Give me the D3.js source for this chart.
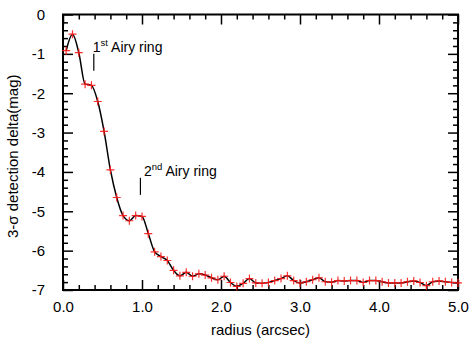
<!DOCTYPE html>
<html>
<head>
<meta charset="utf-8">
<script src="https://cdn.jsdelivr.net/npm/d3@7"></script>
<style>
  html, body { margin: 0; padding: 0; background: #fff; }
  svg { display: block; font-family: "Liberation Sans", Arial, sans-serif; }
</style>
</head>
<body>
<svg id="chart" width="470" height="340"></svg>
<script>
// ---- data ----
const radius = [0.04, 0.12, 0.20, 0.28, 0.36, 0.44, 0.52, 0.60, 0.68, 0.76,
  0.84, 0.92, 1.00, 1.08, 1.16, 1.24, 1.32, 1.40, 1.48, 1.56,
  1.64, 1.72, 1.80, 1.88, 1.96, 2.04, 2.12, 2.20, 2.28, 2.36,
  2.44, 2.52, 2.60, 2.68, 2.76, 2.84, 2.92, 3.00, 3.08, 3.16,
  3.24, 3.32, 3.40, 3.48, 3.56, 3.64, 3.72, 3.80, 3.88, 3.96,
  4.04, 4.12, 4.20, 4.28, 4.36, 4.44, 4.52, 4.60, 4.68, 4.76,
  4.84, 4.92, 5.00];
const delta = [-0.92, -0.50, -0.97, -1.77, -1.80, -2.21, -2.97, -3.95, -4.65, -5.11,
  -5.24, -5.11, -5.13, -5.57, -6.03, -6.15, -6.25, -6.50, -6.64, -6.55,
  -6.65, -6.59, -6.62, -6.69, -6.74, -6.65, -6.81, -6.91, -6.83, -6.71,
  -6.82, -6.83, -6.81, -6.76, -6.71, -6.64, -6.76, -6.82, -6.79, -6.74,
  -6.69, -6.79, -6.80, -6.76, -6.77, -6.76, -6.76, -6.81, -6.76, -6.76,
  -6.79, -6.82, -6.82, -6.82, -6.79, -6.77, -6.81, -6.89, -6.79, -6.77,
  -6.79, -6.81, -6.82];
const xTickValues = [0, 1, 2, 3, 4, 5];
const xTickLabels = ["0.0", "1.0", "2.0", "3.0", "4.0", "5.0"];
const yTickValues = [0, -1, -2, -3, -4, -5, -6, -7];
const yTickLabels = ["0", "-1", "-2", "-3", "-4", "-5", "-6", "-7"];
const annotations = [
  { r: 0.39, v: -1.0, main: "1", sup: "st", rest: " Airy ring" },
  { r: 0.98, v: -4.15, main: "2", sup: "nd", rest: " Airy ring" }
];
const xTitle = "radius (arcsec)";
const yTitle = "3-σ detection delta(mag)";

// ---- layout ----
const L = 63, R = 458, T = 14.5, B = 290;
const svg = d3.select("#chart");
const x = d3.scaleLinear().domain([0, 5]).range([L, R]);
const y = d3.scaleLinear().domain([-7, 0]).range([B, T]);

const xMinor = d3.range(0, 5.0001, 0.2).filter(v => Math.abs(v - Math.round(v)) > 1e-6);
const yMinor = d3.range(-7, 0.0001, 0.2).filter(v => Math.abs(v - Math.round(v)) > 1e-6);

function styleAxis(g) {
  g.select(".domain").remove();
  g.selectAll(".tick line").attr("stroke", "#000").attr("stroke-width", 1.5);
  g.selectAll(".tick text").attr("fill", "#000").attr("font-size", 15)
    .attr("font-family", "'Liberation Sans', Arial, sans-serif");
}

// bottom
svg.append("g").attr("transform", `translate(0,${B})`)
  .call(d3.axisBottom(x).tickValues(xTickValues).tickSize(-10).tickPadding(11)
    .tickFormat((d, i) => xTickLabels[i])).call(styleAxis);
svg.append("g").attr("transform", `translate(0,${B})`)
  .call(d3.axisBottom(x).tickValues(xMinor).tickSize(-5).tickFormat("")).call(styleAxis);
// top
svg.append("g").attr("transform", `translate(0,${T})`)
  .call(d3.axisTop(x).tickValues(xTickValues).tickSize(-10).tickFormat("")).call(styleAxis);
svg.append("g").attr("transform", `translate(0,${T})`)
  .call(d3.axisTop(x).tickValues(xMinor).tickSize(-5).tickFormat("")).call(styleAxis);
// left
svg.append("g").attr("transform", `translate(${L},0)`)
  .call(d3.axisLeft(y).tickValues(yTickValues).tickSize(-10).tickPadding(18)
    .tickFormat((d, i) => yTickLabels[i])).call(styleAxis);
svg.append("g").attr("transform", `translate(${L},0)`)
  .call(d3.axisLeft(y).tickValues(yMinor).tickSize(-5).tickFormat("")).call(styleAxis);
// right
svg.append("g").attr("transform", `translate(${R},0)`)
  .call(d3.axisRight(y).tickValues(yTickValues).tickSize(-10).tickFormat("")).call(styleAxis);
svg.append("g").attr("transform", `translate(${R},0)`)
  .call(d3.axisRight(y).tickValues(yMinor).tickSize(-5).tickFormat("")).call(styleAxis);

// frame
svg.append("rect").attr("x", L).attr("y", T).attr("width", R - L).attr("height", B - T)
  .attr("fill", "none").attr("stroke", "#000").attr("stroke-width", 2);

// line
const pts = radius.map((r, i) => [r, delta[i]]);
svg.append("path").datum(pts)
  .attr("fill", "none").attr("stroke", "#000").attr("stroke-width", 1.5)
  .attr("d", d3.line().x(d => x(d[0])).y(d => y(d[1])).curve(d3.curveMonotoneX));

// markers
svg.append("g").selectAll("path").data(pts).join("path")
  .attr("transform", d => `translate(${x(d[0])},${y(d[1])})`)
  .attr("d", "M-4,0H4M0,-4V4")
  .attr("stroke", "#ff1a1a").attr("stroke-width", 1.2).attr("fill", "none")
  .attr("stroke-opacity", 0.9);

// annotations
annotations.forEach(a => {
  const ax = x(a.r), ay = y(a.v);
  svg.append("line").attr("x1", ax).attr("x2", ax).attr("y1", ay).attr("y2", ay + 17)
    .attr("stroke", "#000").attr("stroke-width", 1.2);
  const t = svg.append("text").attr("x", ax + (a.main === "1" ? -1 : 3.5)).attr("y", ay - 2)
    .attr("font-size", 14).attr("fill", "#000");
  t.append("tspan").text(a.main);
  t.append("tspan").attr("font-size", 9.5).attr("dy", -5.5).text(a.sup);
  t.append("tspan").attr("dy", 5.5).text(a.rest);
});

// titles
svg.append("text").attr("x", (L + R) / 2).attr("y", 335)
  .attr("text-anchor", "middle").attr("font-size", 15).attr("fill", "#000").text(xTitle);
svg.append("text").attr("transform", `translate(18,${(T + B) / 2 + 4}) rotate(-90)`)
  .attr("text-anchor", "middle").attr("font-size", 15).attr("fill", "#000").text(yTitle);
</script>
</body>
</html>
